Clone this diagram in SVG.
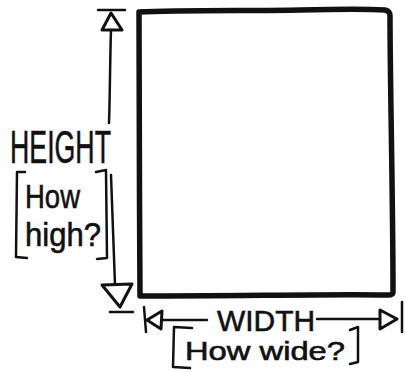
<svg xmlns="http://www.w3.org/2000/svg" width="406" height="372" viewBox="0 0 406 372">
<style>
.ink{fill:none;stroke:#111;stroke-linecap:round;stroke-linejoin:round}
.thin{stroke-width:2.5}
.thick{stroke-width:5.5}
.tri{fill:#fff;stroke:#111;stroke-width:3;stroke-linejoin:round}
.lbl{font-family:"Liberation Sans","DejaVu Sans",sans-serif;fill:#111;stroke:#111;stroke-width:0.6}
</style>
<rect width="406" height="372" fill="#fff"/>
<g id="rectangle">
<path class="ink thick" d="M139,12 C180,10 260,11 300,10 C340,9 370,9 385,10 Q390,11 390,16 C390,80 393,200 393,292 Q393,295 388,295 C330,294 240,296 140,296 C139,200 140,90 139,12 Z"/>
</g>
<g id="connectors">
<path class="ink thin" d="M98,10 L125,10"/>
<path class="tri" d="M111,13 L122,30 L102,30 Z"/>
<path class="ink thin" d="M111,30 C110,60 110,95 109,123"/>
<path class="ink thin" d="M111,175 C112,210 114,250 115,285"/>
<path class="tri" d="M102,285 L132,284 L120,307 Z"/>
<path class="ink thin" d="M110,312 L133,312"/>
<path class="ink thin" d="M144,307 L146,332"/>
<path class="tri" d="M147,320 L162,311 L161,329 Z"/>
<path class="ink thin" d="M162,320 L207,320"/>
<path class="ink thin" d="M317,319 L380,319"/>
<path class="tri" d="M380,310 L397,319 L380,329 Z"/>
<path class="ink thin" d="M402,302 L402,332"/>
</g>
<g id="height-label">
<text class="lbl" x="10" y="163" font-size="46" textLength="101" lengthAdjust="spacingAndGlyphs">HEIGHT</text>
<path class="ink thin" d="M25,172 L17,172 L16,257 L27,258"/>
<path class="ink thin" d="M96,172 L106,170 L107,258 L97,259"/>
<text class="lbl" x="25" y="208" font-size="34" textLength="55" lengthAdjust="spacingAndGlyphs">How</text>
<text class="lbl" x="25" y="246" font-size="34" textLength="76" lengthAdjust="spacingAndGlyphs">high?</text>
</g>
<g id="width-label">
<text class="lbl" x="217" y="331" font-size="30" textLength="98" lengthAdjust="spacingAndGlyphs">WIDTH</text>
<path class="ink thin" d="M192,328 L174,327 L173,367 L190,368"/>
<path class="ink thin" d="M350,330 L358,327 L358,362 L350,364"/>
<text class="lbl" x="185" y="360" font-size="25" textLength="160" lengthAdjust="spacingAndGlyphs">How wide?</text>
</g>
</svg>
